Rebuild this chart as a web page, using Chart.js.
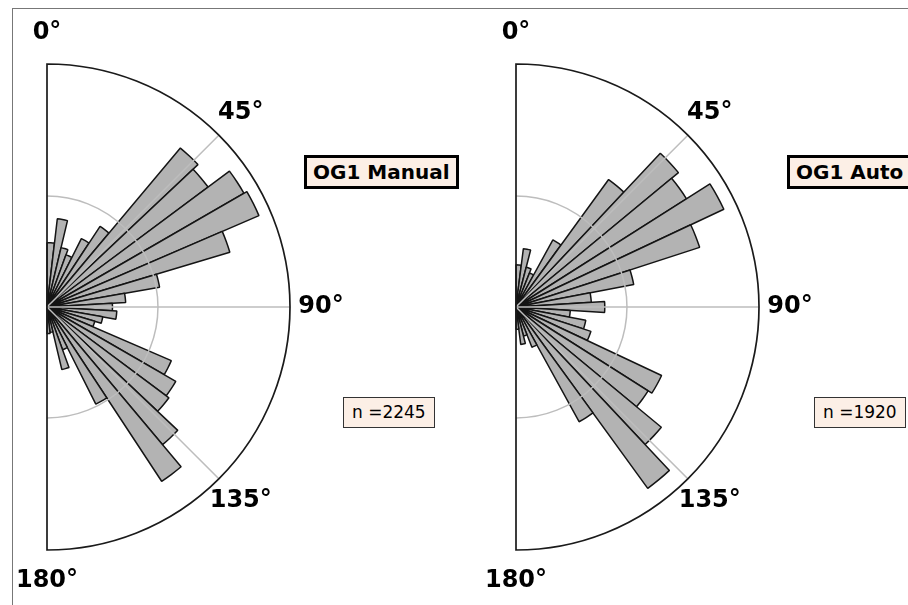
<!DOCTYPE html>
<html>
<head>
<meta charset="utf-8">
<script src="https://cdn.jsdelivr.net/npm/chart.js@4.4.0/dist/chart.umd.min.js"></script>
<style>
  html, body { margin: 0; padding: 0; background: #fff; }
  body { width: 908px; height: 605px; position: relative; overflow: hidden; font-family: "DejaVu Sans", sans-serif; color: #000; }
  .frame { position: absolute; left: 12px; top: 8px; right: -2px; bottom: -2px; border-left: 1px solid #777; border-top: 1px solid #777; }
  .panel { position: absolute; top: 7px; width: 600px; height: 600px; }
  .tag { position: absolute; z-index: 5; background: #fcefe6; box-sizing: border-box; white-space: nowrap; }
  .title { top: 155px; height: 34px; border: 3px solid #000; font-weight: bold; font-size: 20px; line-height: 28px; padding: 0 6px; }
  .count { top: 397px; height: 31px; border: 1.5px solid #333; font-size: 17px; line-height: 28px; padding: 0 8px; }
</style>
</head>
<body>
<div class="frame"></div>
<div class="panel" style="left:-253px"><canvas id="manual" width="600" height="600"></canvas></div>
<div class="panel" style="left:216px"><canvas id="auto" width="600" height="600"></canvas></div>
<div class="tag title" style="left:304px">OG1 Manual</div>
<div class="tag title" style="left:787px">OG1 Auto</div>
<div class="tag count" style="left:343px">n =2245</div>
<div class="tag count" style="left:814px">n =1920</div>
<script>
// orientation counts per bin, 0-180 deg
const manualCounts = [58, 80, 55, 50, 69, 87, 187, 181, 205, 208, 172, 103, 71, 59,
                      63, 51, 45, 122, 134, 137, 162, 188, 98, 41, 58, 23, 24];
const autoCounts = [38, 53, 37, 33, 69, 142, 190, 182, 207, 174, 108, 68, 80,
                    49, 64, 71, 145, 141, 170, 202, 118, 39, 27, 34, 20];

const angleTickValues = [0, 45, 90, 135, 180];
const angleTickLabels = ['0°', '45°', '90°', '135°', '180°'];
const gridAngles = [45, 90, 135];
const ringTicks = [100];
const rMax = 219;

function binLabels(n) {
  const w = 180 / n;
  return Array.from({ length: n }, (_, i) => (i * w).toFixed(1) + '–' + ((i + 1) * w).toFixed(1) + '°');
}

// half circle frame, grid and angle labels
const halfFrame = {
  id: 'halfFrame',
  afterDatasetsDraw(chart) {
    const s = chart.scales.r;
    const ctx = chart.ctx;
    const cx = s.xCenter, cy = s.yCenter, R = s.drawingArea;
    const pt = (deg, r) => {
      const t = deg * Math.PI / 180;
      return [cx + r * Math.sin(t), cy - r * Math.cos(t)];
    };
    ctx.save();
    ctx.strokeStyle = '#bdbdbd';
    ctx.lineWidth = 1.5;
    ringTicks.forEach(v => {
      ctx.beginPath();
      ctx.arc(cx, cy, s.getDistanceFromCenterForValue(v), -Math.PI / 2, Math.PI / 2);
      ctx.stroke();
    });
    gridAngles.forEach(a => {
      const [x, y] = pt(a, R);
      ctx.beginPath();
      ctx.moveTo(cx, cy);
      ctx.lineTo(x, y);
      ctx.stroke();
    });
    ctx.strokeStyle = '#1a1a1a';
    ctx.lineWidth = 1.7;
    ctx.beginPath();
    ctx.moveTo(cx, cy - R);
    ctx.arc(cx, cy, R, -Math.PI / 2, Math.PI / 2);
    ctx.closePath();
    ctx.stroke();

    ctx.fillStyle = '#000';
    ctx.font = 'bold 24px "DejaVu Sans"';
    ctx.textAlign = 'center';
    ctx.textBaseline = 'middle';
    angleTickValues.forEach((a, i) => {
      const [x, y] = pt(a, R + 31);
      ctx.fillText(angleTickLabels[i], x, y);
    });
    ctx.restore();
  }
};

function makeRose(id, counts) {
  return new Chart(document.getElementById(id), {
    type: 'polarArea',
    data: {
      labels: binLabels(counts.length),
      datasets: [{
        data: counts,
        angle: 180 / counts.length,
        backgroundColor: '#b3b3b3',
        borderColor: '#141414',
        borderWidth: 1.5
      }]
    },
    options: {
      responsive: false,
      animation: false,
      layout: { padding: 57 },
      plugins: { legend: { display: false }, tooltip: { enabled: false } },
      scales: {
        r: {
          min: 0,
          max: rMax,
          ticks: { display: false },
          grid: { display: false },
          angleLines: { display: false },
          pointLabels: { display: false }
        }
      }
    },
    plugins: [halfFrame]
  });
}

makeRose('manual', manualCounts);
makeRose('auto', autoCounts);
</script>
</body>
</html>
